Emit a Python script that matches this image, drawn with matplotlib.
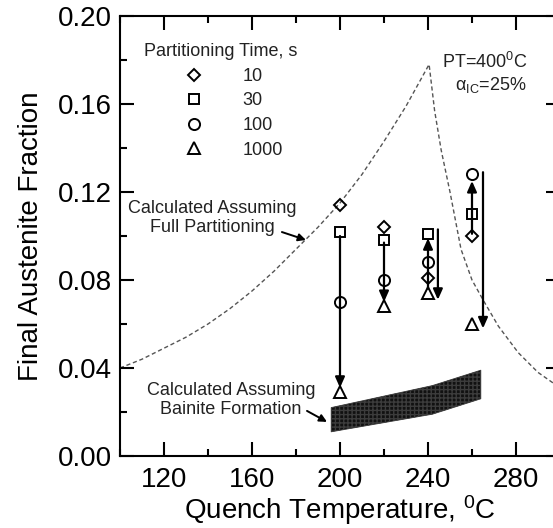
import matplotlib
matplotlib.use("Agg")
import matplotlib.pyplot as plt
from matplotlib.ticker import MultipleLocator
from matplotlib.lines import Line2D

plt.rcParams['font.family'] = ['Liberation Sans', 'DejaVu Sans']
plt.rcParams['mathtext.fontset'] = 'custom'
plt.rcParams['mathtext.rm'] = 'Liberation Sans'
plt.rcParams['mathtext.it'] = 'Liberation Sans:italic'

# ---- data ----
quench_temp = [200, 220, 240, 260]
pt_10 = [0.114, 0.104, 0.081, 0.100]
pt_30 = [0.102, 0.098, 0.101, 0.110]
pt_100 = [0.070, 0.080, 0.088, 0.128]
pt_1000 = [0.029, 0.068, 0.074, 0.060]

arrow_x = [200, 220, 240, 244.5, 260, 265]
arrow_start = [0.100, 0.097, 0.076, 0.103, 0.101, 0.129]
arrow_end = [0.031, 0.070, 0.099, 0.071, 0.125, 0.058]

full_part_T = [100, 110, 120, 130, 140, 150, 160, 170, 180, 190, 200, 210, 220, 230, 240.5,
               243, 246, 250, 255, 260, 265, 272, 281, 290, 300]
full_part_f = [0.040, 0.044, 0.049, 0.054, 0.060, 0.067, 0.075, 0.084, 0.094, 0.104, 0.115,
               0.128, 0.143, 0.159, 0.178, 0.157, 0.139, 0.120, 0.094, 0.080, 0.071, 0.059,
               0.047, 0.038, 0.031]

bainite_T = [196, 242, 264]
bainite_low = [0.011, 0.019, 0.026]
bainite_high = [0.022, 0.032, 0.039]

legend_labels = ['10', '30', '100', '1000']
x_ticks = [120, 160, 200, 240, 280]
y_ticks = [0.00, 0.04, 0.08, 0.12, 0.16, 0.20]

# ---- figure ----
fig = plt.figure(figsize=(5.53, 5.28), dpi=100)
ax = fig.add_axes([120/553, 1 - 456/528, 440/553, 440/528])

ax.plot(full_part_T, full_part_f, color='#555555', lw=1.0, ls=(0, (3, 2)), zorder=1)

ax.fill_between(bainite_T, bainite_low, bainite_high, facecolor='#111111',
                edgecolor='#3c3c3c', hatch='++++', lw=0.6, zorder=2)

for x, y0, y1 in zip(arrow_x, arrow_start, arrow_end):
    ax.annotate('', xy=(x, y1), xytext=(x, y0),
                arrowprops=dict(arrowstyle='-|>,head_length=0.45,head_width=0.2',
                                color='black', lw=1.6,
                                mutation_scale=14, shrinkA=0, shrinkB=0),
                zorder=3)

mk = dict(ls='none', mfc='none', mec='black', mew=1.4, zorder=4)
ax.plot(quench_temp, pt_10, marker='D', ms=6.5, **mk)
ax.plot(quench_temp, pt_30, marker='s', ms=7.5, **mk)
ax.plot(quench_temp, pt_100, marker='o', ms=8, **mk)
ax.plot(quench_temp, pt_1000, marker='^', ms=9, **mk)

handles = [Line2D([], [], marker=m, ms=s, **mk) for m, s in
           zip(['D', 's', 'o', '^'], [6.5, 7.5, 8, 9])]
leg = ax.legend(handles, legend_labels, title='Partitioning Time, s',
                loc='upper left', bbox_to_anchor=(0.0545, 0.938), frameon=False,
                fontsize=13, title_fontsize=13, borderpad=0, borderaxespad=0,
                handlelength=3.9, handletextpad=0.72, labelspacing=0.42)
for t in leg.get_texts():
    t.set_color('#222222')
leg.get_title().set_color('#222222')

tc = '#222222'
ax.text(141.8, 0.1082, 'Calculated Assuming\nFull Partitioning', ha='center', va='center',
        fontsize=13, color=tc, linespacing=1.1)
ax.annotate('', xy=(184.5, 0.0982), xytext=(173.6, 0.1018),
            arrowprops=dict(arrowstyle='-|>', color='black', lw=1.4, mutation_scale=11,
                            shrinkA=0, shrinkB=0))
ax.text(150.5, 0.0255, 'Calculated Assuming\nBainite Formation', ha='center', va='center',
        fontsize=13, color=tc, linespacing=1.1)
ax.annotate('', xy=(194.1, 0.0155), xytext=(185.0, 0.0205),
            arrowprops=dict(arrowstyle='-|>', color='black', lw=1.4, mutation_scale=11,
                            shrinkA=0, shrinkB=0))
ax.text(285, 0.179, r'PT=400$^{\mathrm{0}}$C', ha='right', va='center', fontsize=13, color=tc)
ax.text(285, 0.1686, r'α$_{\mathrm{IC}}$=25%', ha='right', va='center', fontsize=13, color=tc)

ax.set_xlim(100, 300)
ax.set_ylim(0, 0.20)
ax.set_xticks(x_ticks)
ax.set_yticks(y_ticks)
ax.set_yticklabels([f'{v:.2f}' for v in y_ticks])
ax.xaxis.set_minor_locator(MultipleLocator(20))
ax.yaxis.set_minor_locator(MultipleLocator(0.02))
ax.tick_params(which='both', direction='in', top=True, right=True, width=1.5,
               labelsize=20, pad=6)
ax.tick_params(axis='x', which='both', pad=8)
ax.tick_params(which='major', length=10)
ax.tick_params(which='minor', length=5)
for s in ax.spines.values():
    s.set_linewidth(1.5)

ax.set_xlabel(r'Quench Temperature, $^{\mathrm{0}}$C', fontsize=20, labelpad=0)
ax.set_ylabel('Final Austenite Fraction', fontsize=20, labelpad=10)

fig.savefig('out.png', dpi=100)
